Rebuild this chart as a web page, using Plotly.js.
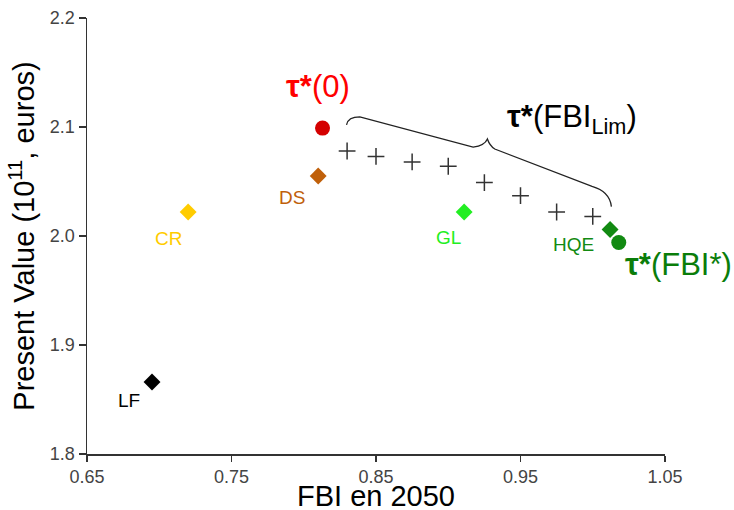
<!DOCTYPE html>
<html>
<head>
<meta charset="utf-8">
<script src="https://cdn.plot.ly/plotly-3.0.1.min.js"></script>
<style>html,body{margin:0;padding:0;background:#fff;}#chart{width:734px;height:510px;}</style>
</head>
<body>
<div id="chart"></div>
<script>
// Scenario points (FBI in 2050, present value in 1e11 euros)
var scenarioNames = ['LF', 'CR', 'DS', 'GL', 'HQE'];
var scenarioFBI   = [0.695, 0.720, 0.810, 0.911, 1.012];
var scenarioPV    = [1.866, 2.022, 2.055, 2.022, 2.006];
var scenarioColors = ['#000000', '#ffcc00', '#c0600a', '#22ee22', '#128a12'];

// Optimal points
var optNames  = ['τ*(0)', 'τ*(FBI*)'];
var optFBI    = [0.813, 1.018];
var optPV     = [2.099, 1.994];
var optColors = ['#d40000', '#128a12'];

// τ*(FBI_Lim) series
var limFBI = [0.830, 0.850, 0.875, 0.900, 0.925, 0.950, 0.975, 1.000];
var limPV  = [2.078, 2.073, 2.068, 2.064, 2.049, 2.037, 2.022, 2.018];

var xTicks = [0.65, 0.75, 0.85, 0.95, 1.05];
var yTicks = [1.8, 1.9, 2.0, 2.1, 2.2];
var xTitle = 'FBI en 2050';

var FONT = 'Liberation Sans, Arial, sans-serif';

var traces = [
  {type: 'scatter', mode: 'markers', x: limFBI, y: limPV,
   marker: {symbol: 'cross-thin', size: 12, color: '#333', line: {width: 1.5, color: '#333'}},
   hoverinfo: 'x+y', showlegend: false},
  {type: 'scatter', mode: 'markers', x: scenarioFBI, y: scenarioPV, text: scenarioNames,
   marker: {symbol: 'diamond', size: 13, color: scenarioColors, line: {width: 0}},
   showlegend: false},
  {type: 'scatter', mode: 'markers', x: optFBI, y: optPV, text: optNames,
   marker: {symbol: 'circle', size: 15, color: optColors, line: {width: 0}},
   showlegend: false}
];

// label offsets (pixels) for scenario labels
var labelShift = {LF: [-23, -18], CR: [-20, -26], DS: [-26, -21], GL: [-16, -25], HQE: [-37, -15]};
var annotations = scenarioNames.map(function (n, i) {
  return {x: scenarioFBI[i], y: scenarioPV[i], xref: 'x', yref: 'y', text: n, showarrow: false,
          xshift: labelShift[n][0], yshift: labelShift[n][1],
          font: {family: FONT, size: 19, color: scenarioColors[i]}};
});
annotations.push({x: optFBI[0], y: optPV[0], xref: 'x', yref: 'y', showarrow: false,
  text: '<b>τ*</b>(0)', xshift: -5, yshift: 42, font: {family: FONT, size: 31, color: '#ff0000'}});
annotations.push({x: optFBI[1], y: optPV[1], xref: 'x', yref: 'y', showarrow: false,
  text: '<b>τ*</b>(FBI*)', xshift: 60, yshift: -22, font: {family: FONT, size: 31, color: '#0a7d0a'}});

// curly brace over the τ*(FBI_Lim) series
var bL = [limFBI[0] - 0.0004, limPV[0] + 0.024];
var bTip = [0.9271, 2.089];
var bR = [limFBI[limFBI.length - 1] + 0.0129, limPV[limPV.length - 1] + 0.009];
var bracePath = 'M' + bL[0] + ',' + bL[1] +
  ' Q0.8307,2.1092 0.8388,2.1092' +
  ' L0.9172,2.0816' +
  ' Q0.9252,2.0829 ' + bTip[0] + ',' + bTip[1] +
  ' Q0.9287,2.0828 0.9322,2.0798' +
  ' L0.9995,2.0455' +
  ' Q1.0117,2.0409 ' + bR[0] + ',' + bR[1];
annotations.push({x: bTip[0], y: bTip[1], xref: 'x', yref: 'y', showarrow: false,
  text: '<b>τ*</b>(FBI<sub>Lim</sub>)', xshift: 85, yshift: 20,
  font: {family: FONT, size: 31, color: '#000'}});

// x-axis title placed as an annotation below the tick labels
annotations.push({x: 0.5, y: 0, xref: 'paper', yref: 'paper', xanchor: 'center', yanchor: 'top',
  yshift: -24, showarrow: false, text: xTitle,
  font: {family: FONT, size: 29, color: '#000'}});

var layout = {
  width: 734, height: 510,
  margin: {l: 87, r: 69, t: 18, b: 56, pad: 0},
  paper_bgcolor: '#fff', plot_bgcolor: '#fff',
  font: {family: FONT, color: '#000'},
  xaxis: {range: [0.65, 1.05], tickvals: xTicks, ticktext: xTicks.map(function (v) { return v.toFixed(2); }),
          showgrid: false, zeroline: false, showline: true, linecolor: '#333', linewidth: 1.5,
          ticks: 'outside', ticklen: 6, tickwidth: 1.5, tickcolor: '#333',
          tickfont: {family: FONT, size: 18, color: '#444'}},
  yaxis: {range: [1.8, 2.2], tickvals: yTicks, ticktext: yTicks.map(function (v) { return v.toFixed(1); }),
          showgrid: false, zeroline: false, showline: true, linecolor: '#333', linewidth: 1.5,
          ticks: 'outside', ticklen: 7, tickwidth: 1.5, tickcolor: '#333',
          tickfont: {family: FONT, size: 18, color: '#444'},
          title: {text: 'Present Value (10<sup>11</sup>, euros)', font: {family: FONT, size: 29, color: '#000'}, standoff: 6}},
  shapes: [{type: 'path', xref: 'x', yref: 'y', path: bracePath, line: {color: '#222', width: 1.3}}],
  annotations: annotations
};

Plotly.newPlot('chart', traces, layout, {displayModeBar: false, staticPlot: true});
</script>
</body>
</html>
